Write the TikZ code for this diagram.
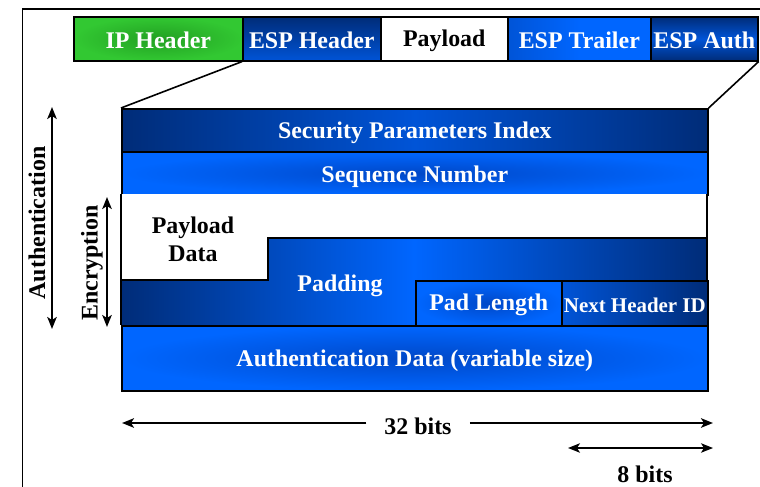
\documentclass[tikz,border=0pt]{standalone}
\usepackage{fontspec}
\setmainfont{Liberation Serif}
\usetikzlibrary{arrows.meta}
\definecolor{navy}{RGB}{0,44,120}
\definecolor{midblue}{RGB}{0,84,215}
\definecolor{bright}{RGB}{0,102,255}
\definecolor{haloblue}{RGB}{0,72,200}
\definecolor{ipgreen}{RGB}{50,200,50}
\definecolor{halogreen}{RGB}{34,160,34}
\begin{document}
\begin{tikzpicture}[x=1bp,y=-1bp,
  lbl/.style={font=\fontsize{24}{27}\selectfont\bfseries, inner sep=0pt},
  wlbl/.style={lbl, text=white},
  topbox/.style={draw=black, line width=1.6bp, minimum height=44bp, inner sep=0pt, anchor=north west},
  rowbox/.style={draw=black, line width=1.6bp, inner sep=0pt, anchor=north west},
  haloshade/.style={inner color=haloblue, outer color=bright},
  edge/.style={draw=black, line width=1.6bp},
  dim/.style={line width=1.6bp, {Stealth[length=12bp,width=9.5bp,inset=3bp]}-{Stealth[length=12bp,width=9.5bp,inset=3bp]}},
  dimthin/.style={line width=1.3bp, {Stealth[length=12bp,width=9.5bp,inset=3bp]}-{Stealth[length=12bp,width=9.5bp,inset=3bp]}},
  half/.style={line width=1.9bp, -{Stealth[length=12bp,width=9.5bp,inset=3bp]}}
]
\useasboundingbox (0,0) rectangle (760,487);
% outer frame
\draw[line width=1.6bp] (22.5,490) |- (762,9);

% top bar
\node[topbox, minimum width=169bp, inner color=halogreen, outer color=ipgreen] (ip) at (73,16) {};
\node[topbox, minimum width=138bp, top color=navy, bottom color=midblue] (esph) at (242,16) {};
\node[topbox, minimum width=127bp, fill=white] (pay) at (380,16) {};
\node[topbox, minimum width=143bp, left color=midblue, right color=bright, middle color=bright] (espt) at (507,16) {};
\node[topbox, minimum width=107bp, top color=navy, bottom color=navy, middle color=midblue] (espa) at (650,16) {};
\node[wlbl] (iplbl) at ([yshift=-1.5bp]ip.center) {IP Header};
\node[wlbl] (esphlbl) at ([yshift=-1.5bp]esph.center) {ESP Header};
\node[lbl] (paylbl) at ([yshift=-1.5bp]pay.center) {Payload};
\node[wlbl] (esptlbl) at ([yshift=-1.5bp]espt.center) {ESP Trailer};
\node[wlbl] (espalbl) at ([yshift=-1.5bp]espa.center) {ESP Auth};

% main block rows
\node[rowbox, minimum width=586bp, minimum height=43bp, left color=navy, right color=navy, middle color=midblue] (spi) at (121,108) {};
\node[rowbox, minimum width=586bp, minimum height=43bp, haloshade] (seq) at (121,151) {};
\node[wlbl] (spilbl) at ([yshift=-2.5bp]spi.center) {Security Parameters Index};
\node[wlbl] (seqlbl) at ([yshift=-3bp]seq.center) {Sequence Number};

% payload / padding area
\fill[white] (121,194) rectangle (707,325);
\path[left color=navy, right color=navy, middle color=bright]
  (121,280) -- (268,280) -- (268,238) -- (707,238) -- (707,325) -- (121,325) -- cycle;
\draw[edge] (121,194) -- (121,325);
\draw[edge] (707,194) -- (707,325);
\draw[edge] (121,280) -- (268,280) -- (268,238) -- (707,238);
\node[lbl, align=center] (pd) at (193,239) {Payload\\[1pt]Data};
\node[wlbl] (padding) at (340,286) {Padding};

\node[rowbox, minimum width=146bp, minimum height=45bp, haloshade] (padlen) at (415,280) {};
\node[rowbox, minimum width=146bp, minimum height=45bp, left color=midblue, right color=navy] (nh) at (561,280) {};
\node[wlbl] (padlenlbl) at ([yshift=-2bp]padlen.center) {Pad Length};
\node[wlbl, font=\fontsize{21}{24}\selectfont\bfseries] (nhlbl) at ([yshift=-2bp]nh.center) {Next Header ID};

\node[rowbox, minimum width=586bp, minimum height=65bp, haloshade] (auth) at (121,325) {};
\node[wlbl] (authlbl2) at ([yshift=-2.5bp]auth.center) {Authentication Data (variable size)};

% zoom lines
\draw[edge] (esph.south west) -- (spi.north west);
\draw[edge] (espa.south east) -- (spi.north east);

% side arrows
\coordinate (aTop) at (52,107);
\coordinate (aBot) at (52,329);
\draw[dim] (aTop) -- (aBot);
\node[lbl, rotate=90] (authlbl) at (37,223) {Authentication};
\coordinate (eTop) at (107,197);
\coordinate (eBot) at (107,327);
\draw[dim] (eTop) -- (eBot);
\node[lbl, rotate=90] (enclbl) at (92,263) {Encryption};

% bottom dimensions
\node[lbl] (b32) at (418,426) {32 bits};
\coordinate (l32) at (122,423);
\coordinate (r32) at (713,423);
\draw[half] ([xshift=-18bp]b32.west |- l32) -- (l32);
\draw[half] ([xshift=18bp]b32.east |- r32) -- (r32);
\coordinate (l8) at (568,448);
\coordinate (r8) at (713,448);
\draw[dimthin] (l8) -- (r8);
\node[lbl] (b8) at (645,474) {8 bits};
\end{tikzpicture}
\end{document}
